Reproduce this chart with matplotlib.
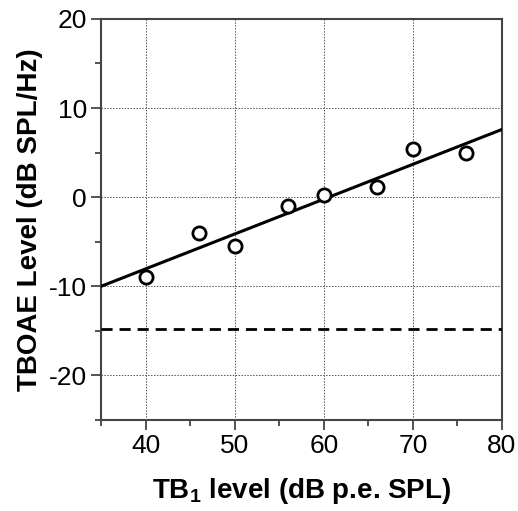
import matplotlib
matplotlib.use("Agg")
import matplotlib.pyplot as plt
from matplotlib.ticker import MultipleLocator

# TB1 level vs TBOAE level
tb1_level = [40, 46, 50, 56, 60, 66, 70, 76]
tboae_level = [-9.0, -4.0, -5.5, -1.0, 0.25, 1.1, 5.4, 5.0]

# fitted line end points and noise floor
fit_x = [35, 80]
fit_y = [-10.0, 7.6]
noise_floor = -14.8

plt.rcParams['font.family'] = ['Liberation Sans', 'DejaVu Sans']
plt.rcParams['axes.unicode_minus'] = False
plt.rcParams['mathtext.fontset'] = 'custom'
plt.rcParams['mathtext.bf'] = 'Liberation Sans:bold'
plt.rcParams['mathtext.rm'] = 'Liberation Sans'

fig = plt.figure(figsize=(5.18, 5.11), dpi=100)
ax = fig.add_axes([0.195, 0.178, 0.774, 0.785])

ax.plot(fit_x, fit_y, color='black', lw=2.2, zorder=3)
ax.axhline(noise_floor, color='black', lw=2.0, ls=(0, (4, 2.5)), zorder=3)
ax.plot(tb1_level, tboae_level, 'o', mfc='white', mec='black', ms=9.5, mew=2.0, zorder=4)

ax.set_xlim(35, 80)
ax.set_ylim(-25, 20)
ax.xaxis.set_major_locator(MultipleLocator(10))
ax.xaxis.set_minor_locator(MultipleLocator(5))
ax.yaxis.set_major_locator(MultipleLocator(10))
ax.yaxis.set_minor_locator(MultipleLocator(5))
ax.set_xticks([40, 50, 60, 70, 80])

ax.grid(True, which='major', color='#555555', ls=(0, (1.5, 1.5)), lw=0.7)
for s in ax.spines.values():
    s.set_color('#444444')
    s.set_linewidth(1.5)

ax.tick_params(which='major', length=7, width=1.3, color='#444444', labelsize=19, pad=3)
ax.tick_params(which='minor', length=4, width=1.3, color='#444444')

ax.set_xlabel('TB$_\\mathbf{1}$ level (dB p.e. SPL)', fontsize=20, fontweight='bold', labelpad=13)
ax.set_ylabel('TBOAE Level (dB SPL/Hz)', fontsize=20, fontweight='bold', labelpad=4)

fig.savefig('out.png', dpi=100)
